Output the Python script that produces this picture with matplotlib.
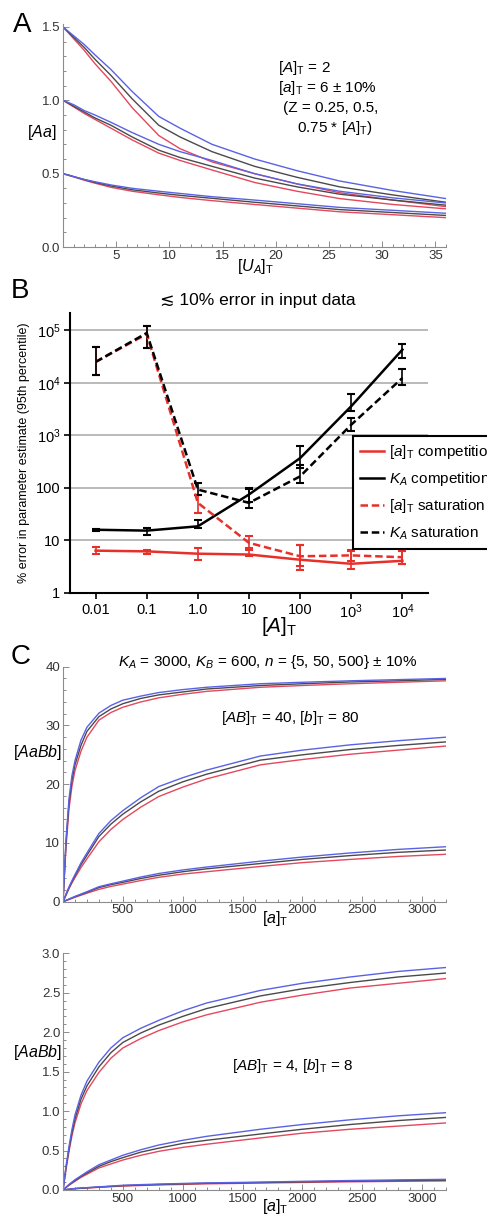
import numpy as np
import matplotlib
matplotlib.use('Agg')
import matplotlib.pyplot as plt
from matplotlib.lines import Line2D
from matplotlib.ticker import MultipleLocator, FixedLocator, NullLocator

plt.rcParams['font.family'] = ['Liberation Sans', 'DejaVu Sans']
plt.rcParams['mathtext.fontset'] = 'custom'
plt.rcParams['mathtext.rm'] = 'Liberation Sans'
plt.rcParams['mathtext.it'] = 'Liberation Sans:italic'
plt.rcParams['mathtext.bf'] = 'Liberation Sans:bold'

W, H = 487, 1216

# ---- panel A: [Aa] vs [U_A]_T, three Z levels, each +-10% in [a]_T
ua = [0, 1, 2, 3, 4.5, 6.5, 9, 11, 14, 18, 22, 26, 31, 36]
a_top = {
    'blue':  [1.5, 1.44, 1.38, 1.31, 1.21, 1.06, 0.89, 0.81, 0.70, 0.60, 0.52, 0.45, 0.385, 0.33],
    'black': [1.5, 1.43, 1.36, 1.28, 1.17, 1.01, 0.83, 0.75, 0.65, 0.55, 0.475, 0.41, 0.355, 0.305],
    'red':   [1.5, 1.42, 1.34, 1.25, 1.13, 0.95, 0.76, 0.67, 0.58, 0.50, 0.43, 0.37, 0.32, 0.275],
}
a_mid = {
    'blue':  [1.0, 0.97, 0.93, 0.90, 0.85, 0.78, 0.70, 0.65, 0.59, 0.50, 0.43, 0.38, 0.335, 0.30],
    'black': [1.0, 0.96, 0.92, 0.88, 0.83, 0.75, 0.66, 0.61, 0.55, 0.47, 0.41, 0.36, 0.32, 0.285],
    'red':   [1.0, 0.955, 0.91, 0.87, 0.81, 0.73, 0.64, 0.59, 0.525, 0.44, 0.38, 0.33, 0.29, 0.26],
}
a_low = {
    'blue':  [0.5, 0.48, 0.46, 0.445, 0.423, 0.40, 0.38, 0.365, 0.343, 0.32, 0.295, 0.27, 0.25, 0.23],
    'black': [0.5, 0.48, 0.46, 0.44, 0.416, 0.39, 0.368, 0.352, 0.332, 0.305, 0.28, 0.255, 0.235, 0.215],
    'red':   [0.5, 0.478, 0.455, 0.435, 0.407, 0.38, 0.356, 0.338, 0.316, 0.29, 0.265, 0.24, 0.22, 0.20],
}

# ---- panel B: % error vs [A]_T
at_b = [0.01, 0.1, 1, 10, 100, 1000, 10000]
acomp = [6.4, 6.2, 5.6, 5.4, 4.3, 3.6, 4.1]
acomp_lo = [5.6, 5.6, 4.3, 5.0, 2.8, 2.9, 3.5]
acomp_hi = [7.4, 6.7, 7.2, 6.5, 8.1, 6.4, 6.2]
kcomp = [16, 15.4, 18.6, 75, 370, 3600, 43000]
kcomp_lo = [15.3, 12.9, 17.3, 55, 240, 2900, 30000]
kcomp_hi = [16.6, 17.3, 25, 100, 620, 6200, 55000]
asat = [25000, 85000, 52, 9.0, 5.0, 5.2, 4.8]
asat_lo = [14300, 46000, 34, 7.2, 3.2, 4.0, 3.5]
asat_hi = [48000, 120000, 74, 12, 8.1, 6.5, 6.2]
ksat = [25000, 89000, 93, 52, 166, 1600, 12400]
ksat_lo = [14300, 46000, 74, 41, 124, 1200, 9300]
ksat_hi = [48000, 120000, 124, 97, 277, 2140, 18300]

# ---- panels C and D: [AaBb] vs [a]_T
a_tot = [0, 25, 50, 75, 100, 150, 200, 300, 400, 500, 650, 800, 1000, 1200,
         1650, 2000, 2400, 2800, 3200]
c_top = {
    'blue':  [0, 10.5, 17.5, 21.5, 24, 27.5, 29.7, 32.1, 33.4, 34.3, 35.0, 35.6, 36.1, 36.5, 37.1, 37.35, 37.6, 37.8, 38.0],
    'black': [0, 10, 16.8, 20.7, 23.3, 26.6, 29.0, 31.5, 32.8, 33.7, 34.6, 35.2, 35.7, 36.2, 36.8, 37.1, 37.4, 37.6, 37.85],
    'red':   [0, 9.3, 15.8, 19.7, 22.3, 25.6, 28.0, 30.9, 32.2, 33.1, 34.0, 34.7, 35.3, 35.8, 36.5, 36.8, 37.1, 37.35, 37.6],
}
c_mid = {
    'blue':  [0, 1.3, 2.5, 3.6, 4.6, 6.6, 8.3, 11.6, 13.8, 15.5, 17.7, 19.6, 21.1, 22.4, 24.8, 25.8, 26.7, 27.4, 28.0],
    'black': [0, 1.2, 2.4, 3.4, 4.4, 6.3, 7.9, 11.1, 13.2, 14.9, 17.0, 18.8, 20.4, 21.7, 24.1, 25.0, 25.9, 26.6, 27.2],
    'red':   [0, 1.1, 2.2, 3.2, 4.1, 5.8, 7.3, 10.2, 12.3, 14.0, 16.1, 17.9, 19.5, 20.9, 23.3, 24.2, 25.1, 25.8, 26.5],
}
c_low = {
    'blue':  [0, 0.23, 0.45, 0.68, 0.9, 1.3, 1.7, 2.55, 3.05, 3.5, 4.2, 4.8, 5.4, 5.9, 6.9, 7.6, 8.3, 8.9, 9.36],
    'black': [0, 0.21, 0.42, 0.63, 0.85, 1.22, 1.6, 2.4, 2.9, 3.3, 3.95, 4.5, 5.1, 5.6, 6.5, 7.2, 7.85, 8.4, 8.8],
    'red':   [0, 0.19, 0.38, 0.57, 0.75, 1.1, 1.45, 2.1, 2.6, 3.0, 3.6, 4.15, 4.7, 5.1, 6.0, 6.65, 7.2, 7.7, 8.07],
}
d_top = {
    'blue':  [0, 0.3, 0.55, 0.77, 0.95, 1.2, 1.38, 1.62, 1.80, 1.93, 2.05, 2.15, 2.27, 2.37, 2.53, 2.62, 2.70, 2.77, 2.82],
    'black': [0, 0.28, 0.52, 0.73, 0.90, 1.15, 1.32, 1.56, 1.74, 1.87, 1.99, 2.09, 2.20, 2.30, 2.46, 2.55, 2.63, 2.70, 2.75],
    'red':   [0, 0.26, 0.49, 0.69, 0.85, 1.09, 1.26, 1.49, 1.67, 1.80, 1.92, 2.02, 2.13, 2.22, 2.38, 2.47, 2.56, 2.62, 2.68],
}
d_mid = {
    'blue':  [0, 0.035, 0.07, 0.10, 0.13, 0.18, 0.23, 0.32, 0.38, 0.44, 0.51, 0.57, 0.63, 0.68, 0.77, 0.83, 0.89, 0.94, 0.98],
    'black': [0, 0.033, 0.065, 0.093, 0.12, 0.17, 0.215, 0.30, 0.36, 0.41, 0.48, 0.53, 0.59, 0.63, 0.71, 0.77, 0.83, 0.88, 0.92],
    'red':   [0, 0.03, 0.06, 0.085, 0.11, 0.16, 0.20, 0.28, 0.33, 0.38, 0.44, 0.49, 0.54, 0.58, 0.66, 0.72, 0.77, 0.81, 0.85],
}
d_low = {
    'blue':  [0, 0.005, 0.01, 0.015, 0.02, 0.025, 0.03, 0.04, 0.05, 0.06, 0.068, 0.075, 0.083, 0.09, 0.10, 0.11, 0.12, 0.128, 0.135],
    'black': [0, 0.0045, 0.009, 0.014, 0.018, 0.023, 0.028, 0.037, 0.046, 0.055, 0.063, 0.07, 0.078, 0.085, 0.095, 0.103, 0.112, 0.119, 0.125],
    'red':   [0, 0.004, 0.008, 0.012, 0.016, 0.021, 0.025, 0.034, 0.042, 0.05, 0.057, 0.064, 0.071, 0.078, 0.088, 0.096, 0.104, 0.11, 0.115],
}

colors = {'blue': '#5a62e4', 'black': '#4a4a4a', 'red': '#e4485e'}


def rect(left, top, right, bottom):
    return [left / W, 1 - bottom / H, (right - left) / W, (bottom - top) / H]


def ftext(x, y, s, **kw):
    fig.text(x / W, 1 - y / H, s, **kw)


def math_axes(ax):
    for s in ['top', 'right']:
        ax.spines[s].set_visible(False)
    for s in ['left', 'bottom']:
        ax.spines[s].set_color('#8c8c8c')
        ax.spines[s].set_linewidth(0.8)
    ax.tick_params(which='both', direction='in', color='#8c8c8c',
                   labelcolor='#333333', labelsize=9.5, width=0.7)
    ax.tick_params(which='major', length=4, pad=2)
    ax.tick_params(which='minor', length=2)


def draw_group(ax, x, group):
    for c in ['red', 'black', 'blue']:
        ax.plot(x, group[c], color=colors[c], lw=1.0)


fig = plt.figure(figsize=(W / 100, H / 100), dpi=100)

# ================= A
axA = fig.add_axes(rect(63, 24, 446, 247))
for g in (a_top, a_mid, a_low):
    draw_group(axA, ua, g)
axA.set_xlim(0, 36)
axA.set_ylim(0, 1.52)
math_axes(axA)
axA.xaxis.set_major_locator(FixedLocator([5, 10, 15, 20, 25, 30, 35]))
axA.xaxis.set_minor_locator(MultipleLocator(1))
axA.yaxis.set_major_locator(MultipleLocator(0.5))
axA.yaxis.set_minor_locator(MultipleLocator(0.1))
ftext(42, 133, r'$[Aa]$', fontsize=11.5, ha='center', va='center')
ftext(256, 266, r'$[U_A]_\mathrm{T}$', fontsize=11.5, ha='center', va='center')
ftext(278, 68, r'$[A]_\mathrm{T}$ = 2', fontsize=11, ha='left', va='center')
ftext(278, 88, r'$[a]_\mathrm{T}$ = 6 ± 10%', fontsize=11, ha='left', va='center')
ftext(283, 108, '(Z = 0.25, 0.5,', fontsize=11, ha='left', va='center')
ftext(297, 128, r'0.75 * $[A]_\mathrm{T}$)', fontsize=11, ha='left', va='center')
ftext(22, 25, 'A', fontsize=20, ha='center', va='center')

# ================= B
axB = fig.add_axes(rect(70, 313, 428, 593))
axB.set_xscale('log')
axB.set_yscale('log')
axB.set_xlim(10 ** -2.5, 10 ** 4.5)
axB.set_ylim(1, 10 ** 5.33)
for s in ['top', 'right']:
    axB.spines[s].set_visible(False)
for s in ['left', 'bottom']:
    axB.spines[s].set_linewidth(1.5)
for yv in [10, 100, 1e3, 1e4, 1e5]:
    axB.axhline(yv, color='#b4b4b4', lw=1.3, zorder=0)


def eb(y, lo, hi, color, ls):
    y = np.array(y)
    err = [y - np.array(lo), np.array(hi) - y]
    axB.errorbar(at_b, y, yerr=err, color=color, ls=ls, lw=1.8,
                 capsize=3, capthick=1.5, elinewidth=1.2)


red_b = '#e8302a'
eb(acomp, acomp_lo, acomp_hi, red_b, '-')
eb(kcomp, kcomp_lo, kcomp_hi, 'black', '-')
eb(asat, asat_lo, asat_hi, red_b, (0, (3, 1.5)))
eb(ksat, ksat_lo, ksat_hi, 'black', (0, (3, 1.5)))

axB.xaxis.set_major_locator(FixedLocator(at_b))
axB.xaxis.set_minor_locator(NullLocator())
axB.set_xticklabels(['0.01', '0.1', '1.0', '10', '100', r'$10^3$', r'$10^4$'])
axB.yaxis.set_major_locator(FixedLocator([1, 10, 100, 1e3, 1e4, 1e5]))
axB.yaxis.set_minor_locator(NullLocator())
axB.set_yticklabels(['1', '10', '100', r'$10^3$', r'$10^4$', r'$10^5$'])
axB.tick_params(labelsize=10.5, length=4, width=1.2, pad=3)
axB.set_ylabel('% error in parameter estimate (95th percentile)', fontsize=9, labelpad=4)
ftext(279, 626, r'$[A]_\mathrm{T}$', fontsize=15, ha='center', va='center')
ftext(258, 301, '≲ 10% error in input data', fontsize=12.5, ha='center', va='center')
ftext(20, 291, 'B', fontsize=20, ha='center', va='center')

handles = [
    Line2D([], [], color=red_b, lw=1.8, ls='-'),
    Line2D([], [], color='black', lw=1.8, ls='-'),
    Line2D([], [], color=red_b, lw=1.8, ls=(0, (3, 1.5))),
    Line2D([], [], color='black', lw=1.8, ls=(0, (3, 1.5))),
]
labels = [r'$[a]_\mathrm{T}$ competition', r'$K_A$ competition',
          r'$[a]_\mathrm{T}$ saturation', r'$K_A$ saturation']
leg = fig.legend(handles, labels, loc='upper left',
                 bbox_to_anchor=(353 / W, 1 - 436 / H), borderaxespad=0,
                 fontsize=11, fancybox=False, framealpha=1, edgecolor='black',
                 handlelength=1.6, handletextpad=0.3, labelspacing=0.6,
                 borderpad=0.45)
leg.get_frame().set_linewidth(1.5)

# ================= C
axC = fig.add_axes(rect(63, 666.7, 446, 901.7))
for g in (c_top, c_mid, c_low):
    draw_group(axC, a_tot, g)
axC.set_xlim(0, 3200)
axC.set_ylim(0, 40)
math_axes(axC)
axC.xaxis.set_major_locator(FixedLocator([500, 1000, 1500, 2000, 2500, 3000]))
axC.xaxis.set_minor_locator(MultipleLocator(100))
axC.yaxis.set_major_locator(MultipleLocator(10))
axC.yaxis.set_minor_locator(MultipleLocator(2))
ftext(37, 753, r'$[AaBb]$', fontsize=11.5, ha='center', va='center')
ftext(275, 918, r'$[a]_\mathrm{T}$', fontsize=11.5, ha='center', va='center')
ftext(268, 662, r'$K_A$ = 3000, $K_B$ = 600, $n$ = {5, 50, 500} ± 10%',
      fontsize=11, ha='center', va='center')
ftext(290, 718, r'$[AB]_\mathrm{T}$ = 40, $[b]_\mathrm{T}$ = 80',
      fontsize=11, ha='center', va='center')
ftext(21, 657, 'C', fontsize=20, ha='center', va='center')

# ================= D
axD = fig.add_axes(rect(63, 953.3, 446, 1190))
for g in (d_top, d_mid, d_low):
    draw_group(axD, a_tot, g)
axD.set_xlim(0, 3200)
axD.set_ylim(0, 3.0)
math_axes(axD)
axD.xaxis.set_major_locator(FixedLocator([500, 1000, 1500, 2000, 2500, 3000]))
axD.xaxis.set_minor_locator(MultipleLocator(100))
axD.yaxis.set_major_locator(MultipleLocator(0.5))
axD.yaxis.set_minor_locator(MultipleLocator(0.1))
ftext(37, 1053, r'$[AaBb]$', fontsize=11.5, ha='center', va='center')
ftext(275, 1207, r'$[a]_\mathrm{T}$', fontsize=11.5, ha='center', va='center')
ftext(293, 1066, r'$[AB]_\mathrm{T}$ = 4, $[b]_\mathrm{T}$ = 8',
      fontsize=11, ha='center', va='center')

fig.savefig('out.png', dpi=100)
